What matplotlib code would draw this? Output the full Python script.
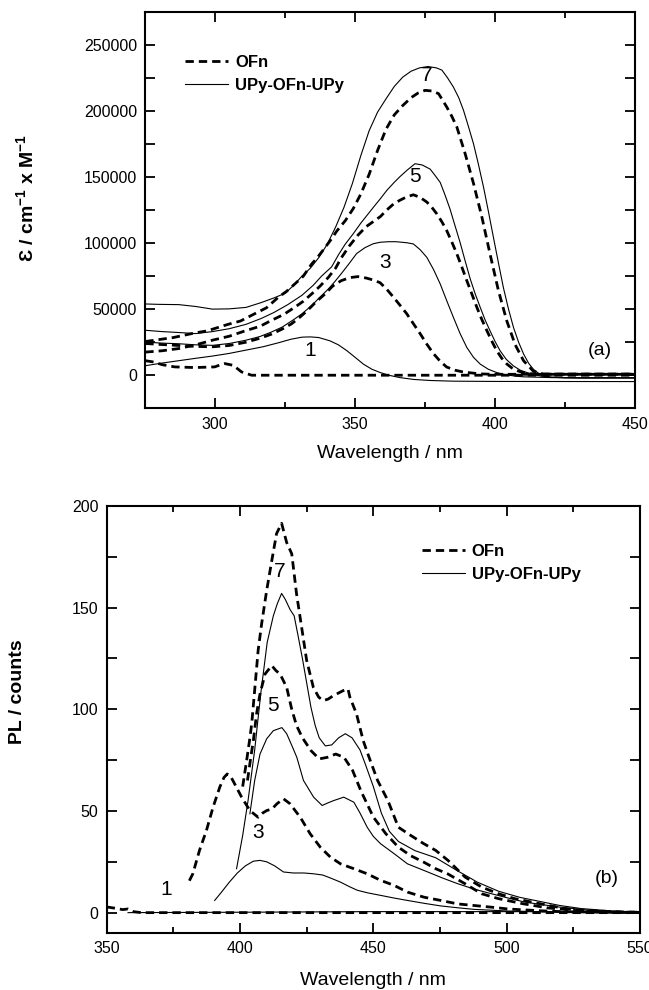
import matplotlib
matplotlib.use("Agg")
import matplotlib.pyplot as plt
from matplotlib.ticker import MultipleLocator, FixedLocator

plt.rcParams['font.family'] = ['Liberation Sans', 'DejaVu Sans']
plt.rcParams['mathtext.fontset'] = 'custom'
plt.rcParams['mathtext.rm'] = 'Liberation Sans'
plt.rcParams['mathtext.bf'] = 'Liberation Sans:bold'
plt.rcParams['mathtext.default'] = 'regular'

# ---------------- (a) absorption ----------------
abs_ofn1_wl = [275, 278, 281, 285.5, 292.7, 299.8, 302, 303.4, 306.4, 309.4, 313, 450]
abs_ofn1 = [11000, 10000, 8000, 6300, 5800, 6300, 8000, 8800, 7500, 2500, 0, 0]

abs_ofn3_wl = [275, 281, 287, 293, 299, 305, 311, 316, 320, 324, 327.2, 330.3, 333.2, 336, 339.2, 342,
               345, 348, 351, 354, 356.5, 358.9, 361.3, 363.7, 366, 368.4, 370.8, 373.2, 375.6, 378,
               380.4, 382.7, 385.7, 388.7, 394.7, 400, 450]
abs_ofn3 = [24000, 23200, 22500, 21800, 21500, 22500, 25000, 28000, 31000, 35000, 38800, 44000, 49500,
            55500, 61400, 67500, 71500, 73800, 74600, 73500, 72000, 70000, 65000, 59000, 53000, 46600,
            39000, 31500, 23500, 16300, 10500, 6200, 3800, 2400, 1000, 700, 700]

abs_ofn5_wl = [275, 281, 287, 293, 299, 305, 311, 316, 320, 324.5, 328.4, 331.5, 334.4, 337.5, 340.4, 343,
               345.1, 348, 351, 354, 357, 359, 361.3, 363.7, 366.1, 368.5, 370.8, 373.2, 375.6, 377.4,
               379.2, 381, 382.7, 384.5, 386.3, 388.1, 389.9, 391.7, 393.5, 395.3, 397.1, 398.9, 400.6,
               402.4, 404.2, 406, 407.8, 410, 412.5, 416, 450]
abs_ofn5 = [17500, 18500, 20200, 23000, 26500, 29500, 33800, 37000, 41400, 46000, 51400, 56000, 61400,
            67500, 74000, 81000, 89000, 98000, 106000, 112500, 117000, 120000, 125000, 129500, 132500,
            135000, 136500, 134500, 131000, 127000, 122000, 116000, 109500, 101000, 92000, 82000, 71500,
            61500, 51300, 42000, 33600, 25500, 18500, 12800, 8500, 5500, 3500, 2000, 1200, 800, 800]

abs_ofn7_wl = [275, 280, 285, 292.7, 297, 304.6, 309, 314, 318.3, 322.5, 325.5, 328.4, 331.5, 334.4, 336.5,
               339.2, 341.5, 343.4, 346.5, 349.3, 352, 355, 358, 361, 364, 367, 370, 372.5, 375, 377.5,
               379.8, 382.7, 384.5, 386.3, 389.3, 392.3, 395.3, 398.2, 401.2, 404.2, 407.2, 410.2, 413.7,
               417.3, 450]
abs_ofn7 = [25500, 27000, 28500, 32000, 33500, 38500, 41000, 46400, 51000, 58900, 63500, 69000, 75000,
            84000, 89000, 96500, 103000, 109000, 117000, 126000, 137000, 152000, 170000, 186000, 197000,
            204000, 210000, 213500, 215500, 215000, 213000, 203000, 196000, 188000, 167600, 145000,
            119500, 91700, 64000, 41000, 23000, 10900, 3000, 900, 900]

abs_upy1_wl = [275, 281, 287, 293, 299, 305, 311, 317, 322.5, 327, 331, 334, 337, 341, 344, 347, 350, 353,
               356, 359, 362, 366, 371, 377, 385, 400, 450]
abs_upy1 = [7200, 9200, 11000, 12800, 14500, 16500, 19000, 21500, 24500, 27200, 28800, 29000, 28500,
            26000, 23000, 18600, 13500, 8300, 4500, 2000, 0, -1800, -3200, -4000, -4500, -4700, -4800]

abs_upy3_wl = [275, 281, 287, 293, 299, 305, 311, 316, 320, 324, 328.4, 331, 334.4, 337.4, 340.4, 342.8,
               345.1, 347.5, 350.5, 353.5, 356.5, 359, 362, 364.5, 366.6, 368.5, 370.8, 373.2, 375.6,
               378, 380.4, 382.7, 385.1, 387.5, 389.9, 392.3, 394.7, 397.6, 400.6, 403.5, 406.6, 410,
               420, 430, 450]
abs_upy3 = [25000, 24300, 23800, 23000, 22600, 24000, 26500, 29300, 32600, 36500, 42600, 46500, 52600,
            59000, 65200, 71000, 77000, 83500, 92000, 96500, 99500, 100600, 101000, 101000, 100600,
            100200, 99300, 95000, 89200, 80000, 69000, 56500, 43800, 31500, 21000, 13500, 8400, 4500,
            2000, 500, -500, -1200, -1800, -2000, -2000]

abs_upy5_wl = [275, 281, 287, 293, 299, 305, 311, 316.5, 321, 326, 331, 335, 338, 341.6, 344, 346.4,
               349.3, 352, 356.5, 359, 361.3, 364, 366.1, 368.5, 371.4, 374, 376.8, 378.6, 380.4, 382,
               383.9, 385.7, 387.5, 389.3, 391.1, 392.9, 394.7, 396.5, 398.2, 400, 401.8, 404, 406.6,
               409, 411.4, 414, 416.1, 420, 430, 450]
abs_upy5 = [34000, 33000, 32300, 31500, 33000, 35200, 38500, 43000, 47500, 53500, 60500, 68000, 75000,
            82000, 91000, 99000, 107000, 115000, 127000, 133500, 139800, 146000, 150400, 155000, 160000,
            159000, 155900, 151000, 145800, 137000, 125700, 113000, 100400, 86500, 73000, 61500, 51300,
            41500, 33600, 25500, 18500, 12000, 7000, 3800, 2000, 500, -500, -1500, -2000, -2000]

abs_upy7_wl = [275, 280, 287, 293, 299, 305, 311, 316.5, 321, 325, 328, 331, 334, 337, 340, 343, 346,
               349, 352, 355, 358, 361, 364, 367, 370, 373, 376, 379, 381, 383, 385.1, 387, 388.7,
               390.5, 392.3, 394, 395.9, 397.7, 399.4, 401.2, 403, 404.8, 406.6, 408.4, 410.2, 412,
               413.7, 415.5, 417.3, 420, 425, 450]
abs_upy7 = [53900, 53600, 53400, 52000, 50000, 50200, 51300, 55000, 58500, 62000, 68000, 75000, 81000,
            89000, 99000, 112000, 127000, 145000, 166000, 185000, 199000, 209000, 218500, 225500,
            230000, 232500, 233500, 232500, 230800, 225000, 218000, 210000, 200500, 188000, 175000,
            160000, 142000, 123000, 104400, 85000, 66000, 50000, 36000, 25000, 16000, 9000, 4500,
            1500, 0, -1500, -2000, -2000]

# ---------------- (b) photoluminescence ----------------
pl_ofn1_wl = [350, 353, 356, 358, 360, 363, 370, 400, 450, 500, 550]
pl_ofn1 = [2.8, 2.2, 1.5, 1.8, 0.5, 0, 0, 0, 0, 0, 0]

pl_ofn3_wl = [381, 382.3, 384.8, 387.4, 389.9, 392.4, 394, 395.2, 396.5, 398, 400.6, 403.7, 406.8, 408.5,
              410, 412, 413.8, 416.3, 418.8, 420.5, 422.6, 426.3, 430.1, 433.9, 437.7, 442.7, 447.7,
              452.7, 457.8, 462.8, 469, 475.3, 481.6, 487.9, 494.2, 500.5, 513, 520.6, 535, 550]
pl_ofn3 = [15.7, 19.1, 30.6, 40.4, 51.9, 61.7, 66.5, 68.2, 67, 63.3, 56.8, 50.2, 46.9, 49, 50.2, 51,
           53.5, 56, 53.5, 50.5, 46.9, 38.8, 32.2, 27.3, 24, 21.6, 19.1, 15.9, 13.4, 10.1, 7.6, 6, 4.3,
           3.5, 2.7, 1.8, 0.9, 0.5, 0.2, 0]

pl_ofn5_wl = [402.8, 404, 405, 406.2, 407.5, 409.4, 411.9, 413.5, 415, 417.5, 419.4, 421.2, 423.4, 426.6,
              429.7, 432.8, 435.9, 439, 442.2, 445.3, 450, 454.7, 459.4, 464, 468.8, 473.4, 478, 484.4,
              490.6, 496.9, 506, 515.6, 528, 540, 550]
pl_ofn5 = [65, 76, 84.6, 97.7, 107.6, 117.4, 121.5, 119, 117.4, 110.8, 100, 92, 86, 79.7, 75.6, 76.4, 78,
           76.4, 70, 60, 47, 38.8, 32.2, 28, 24.9, 21.6, 19, 14.2, 9.3, 6.9, 4.4, 2.3, 0.8, 0.3, 0.2]

pl_ofn7_wl = [401, 402.5, 403.5, 404.4, 405.6, 406.8, 408.1, 410, 411.9, 413.7, 415.6, 417.5, 419.4, 421.2,
              423.1, 425, 427.5, 429.5, 431.2, 433, 435, 438.7, 440.5, 441.2, 443.7, 446.2, 448.4, 451.6,
              455.5, 459.4, 464, 468.8, 473.4, 478, 484.4, 490.6, 496.9, 503, 509.4, 515.6, 521.9, 528,
              543.8, 550]
pl_ofn7 = [62, 75, 84, 93, 111, 129, 142, 158.5, 173, 186.4, 191.5, 182, 176.5, 156.8, 140.4, 124, 110.8,
           106, 104.3, 105, 106.7, 109.2, 110, 106, 97.7, 84.6, 76.4, 65, 55, 42, 38, 34, 30.6, 25.7,
           17.5, 12.6, 9.3, 6.9, 5.2, 3.6, 2, 1.1, 0.3, 0.2]

pl_upy1_wl = [358, 400, 450, 500, 550]
pl_upy1 = [0, 0.2, 0.5, 0.5, 0.3]

pl_upy3_wl = [390.5, 393, 396, 399, 402, 405, 407.5, 410, 413, 416.3, 420, 424, 427.6, 431, 434, 437.7,
              441, 444, 448, 452.7, 457.7, 462.8, 469, 475.3, 481.6, 487.9, 500.5, 520, 550]
pl_upy3 = [6, 10, 15, 19.5, 23, 25.3, 25.7, 25, 23, 20, 19.5, 19.5, 19.1, 18.5, 17, 15, 12.8, 11, 9.7,
           8.5, 7.2, 6, 4.6, 3.3, 2.4, 1.6, 0.8, 0.3, 0]

pl_upy5_wl = [403.7, 405.5, 407.5, 410, 412.5, 415.7, 417.5, 419.5, 421.3, 423.8, 427.6, 430.8, 433,
              435.1, 438.9, 442.7, 445, 447.7, 450, 452.7, 457.8, 462.8, 470.4, 476, 481.7, 488, 494.3,
              500.5, 506.8, 513, 519.4, 530, 540, 550]
pl_upy5 = [48.6, 65, 78, 85.5, 89.5, 91, 88, 82, 76.4, 65, 56.8, 52.7, 54, 55.1, 56.8, 54.3, 49, 42,
           37.5, 33.9, 29, 24, 20, 17, 14.2, 11.5, 9.3, 7.2, 5.2, 4, 2.8, 1.3, 0.6, 0.3]

pl_upy7_wl = [398.7, 401, 403, 405.5, 407.8, 410.2, 412.5, 414, 415.6, 417, 418.8, 420.3, 421.8, 423.4,
              425, 426.6, 428.2, 429.7, 432, 434.4, 437, 439.5, 442, 445, 447, 450, 453, 456, 459.4,
              465.6, 473.4, 481, 489, 497, 505, 512.5, 520, 528, 540, 550]
pl_upy7 = [21.6, 38, 55, 80, 108, 133, 146, 152, 157, 154, 149, 146, 136, 125, 113, 101, 92, 86, 82,
           82.5, 86, 88, 86, 80, 73, 62, 49, 40, 35, 30.5, 27, 21, 15, 10.5, 7.5, 5.5, 3.5, 2, 0.8, 0.3]

legend_labels = ['OFn', 'UPy-OFn-UPy']
curve_numbers = ['1', '3', '5', '7']

DASH = (0, (3.0, 1.8))
DLW = 2.0
SLW = 0.8

fig = plt.figure(figsize=(6.49, 9.90), dpi=100)
ax1 = fig.add_axes([0.2239, 0.5876, 0.7545, 0.4006])
ax2 = fig.add_axes([0.1644, 0.0576, 0.8217, 0.4313])


def style_axes(ax):
    for s in ax.spines.values():
        s.set_linewidth(1.5)
    ax.tick_params(which='both', direction='in', top=True, right=True, labelsize=11.5, pad=6)
    ax.tick_params(which='major', length=7, width=1.3)
    ax.tick_params(axis='x', which='minor', length=4, width=1.3)
    ax.tick_params(axis='y', which='minor', length=7, width=1.3)


# top
for wl, v in [(abs_ofn1_wl, abs_ofn1), (abs_ofn3_wl, abs_ofn3), (abs_ofn5_wl, abs_ofn5), (abs_ofn7_wl, abs_ofn7)]:
    ax1.plot(wl, v, color='black', lw=DLW, linestyle=DASH)
for wl, v in [(abs_upy1_wl, abs_upy1), (abs_upy3_wl, abs_upy3), (abs_upy5_wl, abs_upy5), (abs_upy7_wl, abs_upy7)]:
    ax1.plot(wl, v, color='black', lw=SLW)
ax1.set_xlim(275, 450)
ax1.set_ylim(-25000, 275000)
ax1.xaxis.set_major_locator(FixedLocator([300, 350, 400, 450]))
ax1.xaxis.set_minor_locator(FixedLocator([325, 375, 425]))
ax1.yaxis.set_major_locator(MultipleLocator(50000))
ax1.yaxis.set_minor_locator(MultipleLocator(25000))
style_axes(ax1)
ax1.set_xlabel('Wavelength / nm', fontsize=14, labelpad=10)
ax1.set_ylabel('Ɛ / cm$^{-1}$ x M$^{-1}$', fontsize=14, fontweight='bold')
ax1.yaxis.set_label_coords(-0.222, 0.53)

for txt, (x, y) in zip(curve_numbers, [(333.8, 18400), (360.7, 85400), (371.4, 150000), (375.5, 227000)]):
    ax1.text(x, y, txt, fontsize=15, ha='center', va='center')
ax1.text(437.5, 18400, '(a)', fontsize=14, ha='center', va='center')

h1, = ax1.plot([], [], color='black', lw=DLW, linestyle=DASH)
h2, = ax1.plot([], [], color='black', lw=SLW)
ax1.legend([h1, h2], legend_labels, loc='upper left', bbox_to_anchor=(0.081, 0.892), frameon=False,
           prop={'weight': 'bold', 'size': 12}, handlelength=2.6, handletextpad=0.4,
           labelspacing=0.5, borderpad=0, borderaxespad=0)

# bottom
for wl, v in [(pl_ofn1_wl, pl_ofn1), (pl_ofn3_wl, pl_ofn3), (pl_ofn5_wl, pl_ofn5), (pl_ofn7_wl, pl_ofn7)]:
    ax2.plot(wl, v, color='black', lw=DLW, linestyle=DASH)
for wl, v in [(pl_upy1_wl, pl_upy1), (pl_upy3_wl, pl_upy3), (pl_upy5_wl, pl_upy5), (pl_upy7_wl, pl_upy7)]:
    ax2.plot(wl, v, color='black', lw=SLW)
ax2.set_xlim(350, 550)
ax2.set_ylim(-10, 200)
ax2.xaxis.set_major_locator(MultipleLocator(50))
ax2.xaxis.set_minor_locator(MultipleLocator(25))
ax2.yaxis.set_major_locator(MultipleLocator(50))
ax2.yaxis.set_minor_locator(MultipleLocator(25))
style_axes(ax2)
ax2.set_xlabel('Wavelength / nm', fontsize=14, labelpad=11)
ax2.set_ylabel('PL / counts', fontsize=14, fontweight='bold')
ax2.yaxis.set_label_coords(-0.152, 0.565)

for txt, (x, y) in zip(curve_numbers, [(372.2, 11.5), (406.8, 39.4), (412.5, 101.8), (415, 168)]):
    ax2.text(x, y, txt, fontsize=15, ha='center', va='center')
ax2.text(537.5, 17, '(b)', fontsize=14, ha='center', va='center')

h3, = ax2.plot([], [], color='black', lw=DLW, linestyle=DASH)
h4, = ax2.plot([], [], color='black', lw=SLW)
ax2.legend([h3, h4], legend_labels, loc='upper left', bbox_to_anchor=(0.591, 0.912), frameon=False,
           prop={'weight': 'bold', 'size': 12}, handlelength=2.6, handletextpad=0.4,
           labelspacing=0.5, borderpad=0, borderaxespad=0)

fig.savefig('out.png', dpi=100)
